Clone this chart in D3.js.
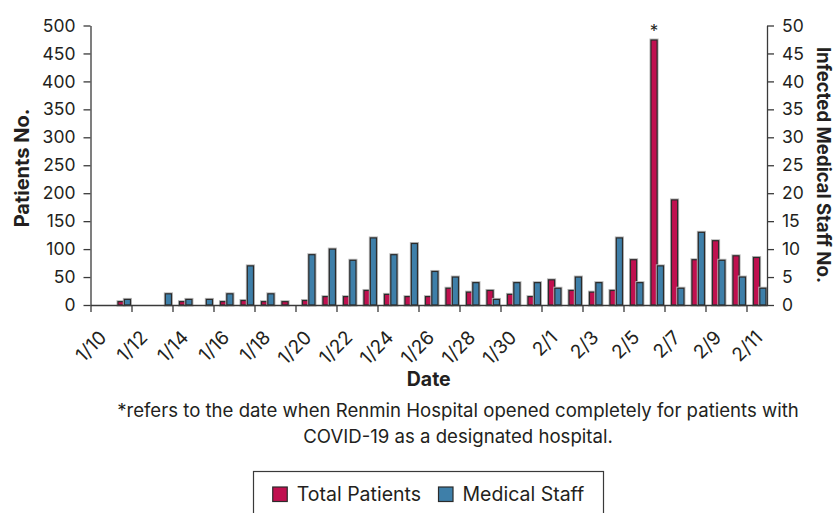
<!DOCTYPE html>
<html>
<head>
<meta charset="utf-8">
<script src="https://cdn.jsdelivr.net/npm/d3@7"></script>
<style>
  body { margin: 0; background: #fff; }
  svg { display: block; }
  text { font-family: Inter, "Liberation Sans", Arial, sans-serif; fill: #231f20; }
</style>
</head>
<body>
<div id="chart"></div>
<script>
// one entry per day, 1/10 .. 2/11
const dates = ["1/10", "1/11", "1/12", "1/13", "1/14", "1/15", "1/16", "1/17", "1/18", "1/19",
  "1/20", "1/21", "1/22", "1/23", "1/24", "1/25", "1/26", "1/27", "1/28", "1/29",
  "1/30", "1/31", "2/1", "2/2", "2/3", "2/4", "2/5", "2/6", "2/7", "2/8",
  "2/9", "2/10", "2/11"];
const totalPatients = [0, 6, 0, 0, 6, 0, 6, 8, 6, 6,
  8, 15, 15, 26, 19, 15, 15, 30, 23, 26,
  19, 15, 45, 26, 23, 26, 81, 474, 188, 81,
  115, 88, 85];
const medicalStaff = [0, 1, 0, 2, 1, 1, 2, 7, 2, 0,
  9, 10, 8, 12, 9, 11, 6, 5, 4, 1,
  4, 4, 3, 5, 4, 12, 4, 7, 3, 13,
  8, 5, 3];
const tickDates = ["1/10", "1/12", "1/14", "1/16", "1/18", "1/20", "1/22", "1/24", "1/26", "1/28",
  "1/30", "2/1", "2/3", "2/5", "2/7", "2/9", "2/11"];
const markedDate = "2/6";
const seriesNames = ["Total Patients", "Medical Staff"];
const seriesColors = ["#c0104f", "#3e7fa9"];

const W = 835, H = 513;
const margin = { top: 25.5, right: 68, bottom: 208, left: 90.5 };
const width = W - margin.left - margin.right;
const height = H - margin.top - margin.bottom;

const svg = d3.select("#chart").append("svg")
  .attr("width", W)
  .attr("height", H);

const g = svg.append("g")
  .attr("transform", "translate(" + margin.left + "," + margin.top + ")");

// day index scale: band i runs from x(i) to x(i+1)
const x = d3.scaleLinear().domain([0, dates.length]).range([0, width]);
const y = d3.scaleLinear().domain([0, 500]).range([height, 0]);
const y2 = d3.scaleLinear().domain([0, 50]).range([height, 0]);
const bw = x(1) - x(0);

// bars, drawn twice: soft grey halo then the dark outline
function drawBars(values, scale, color, offset) {
  const data = values.map((v, i) => ({ i: i, v: v })).filter(d => d.v > 0);
  [["#b8b8b8", 3], ["#2b2b2b", 1.2]].forEach(([stroke, sw]) => {
    g.append("g").selectAll("rect")
      .data(data)
      .enter()
      .append("rect")
      .attr("x", d => x(d.i) + bw * offset)
      .attr("y", d => scale(d.v))
      .attr("width", bw * 0.3)
      .attr("height", d => height - scale(d.v))
      .attr("fill", color)
      .attr("stroke", stroke)
      .attr("stroke-width", sw);
  });
}
drawBars(totalPatients, y, seriesColors[0], 0.34);
drawBars(medicalStaff, y2, seriesColors[1], 0.65);

// asterisk over the marked day
const mi = dates.indexOf(markedDate);
g.append("text")
  .attr("x", x(mi) + bw * 0.49)
  .attr("y", y(totalPatients[mi]) - 3)
  .attr("text-anchor", "middle")
  .style("font-size", "17px")
  .text("*");

// Axes
function styleAxis(sel) {
  sel.selectAll("path, line").attr("stroke", "#3a3a3a").attr("stroke-width", 1.3);
  sel.selectAll("text").style("font-size", "17.5px").attr("fill", "#231f20");
  sel.attr("font-family", null);
}

g.append("g")
  .call(d3.axisLeft(y).tickValues(d3.range(0, 501, 50)).tickSize(7).tickPadding(8).tickSizeOuter(0))
  .call(styleAxis);

g.append("g")
  .attr("transform", "translate(" + width + ",0)")
  .call(d3.axisRight(y2).tickValues(d3.range(0, 51, 5)).tickSize(7).tickPadding(8).tickSizeOuter(0))
  .call(styleAxis);

const xAxis = g.append("g")
  .attr("transform", "translate(0," + height + ")")
  .call(d3.axisBottom(x)
    .tickValues(tickDates.map(d => dates.indexOf(d)))
    .tickFormat(i => dates[i])
    .tickSize(7)
    .tickSizeOuter(0))
  .call(styleAxis);

xAxis.selectAll(".tick text")
  .style("font-size", "19px")
  .attr("text-anchor", "end")
  .attr("x", 0)
  .attr("y", 0)
  .attr("dy", "0.72em")
  .attr("transform", "translate(7,24) rotate(-45)");

// Axis titles
svg.append("text")
  .attr("transform", "translate(22,168) rotate(-90)")
  .attr("text-anchor", "middle")
  .attr("dy", "0.35em")
  .style("font-size", "20px")
  .style("font-weight", "bold")
  .text("Patients No.");

svg.append("text")
  .attr("transform", "translate(824,165) rotate(90)")
  .attr("text-anchor", "middle")
  .attr("dy", "0.35em")
  .style("font-size", "18.6px")
  .style("font-weight", "bold")
  .text("Infected Medical Staff No.");

svg.append("text")
  .attr("x", margin.left + width / 2)
  .attr("y", 386)
  .attr("text-anchor", "middle")
  .style("font-size", "19.5px")
  .style("font-weight", "bold")
  .text("Date");

// footnote
const notes = ["*refers to the date when Renmin Hospital opened completely for patients with",
  "COVID-19 as a designated hospital."];
svg.selectAll(".note")
  .data(notes)
  .enter()
  .append("text")
  .attr("class", "note")
  .attr("x", 458)
  .attr("y", (d, i) => 417 + i * 26)
  .attr("text-anchor", "middle")
  .style("font-size", "18.6px")
  .text(d => d);

// Legend
svg.append("rect")
  .attr("x", 253.5)
  .attr("y", 471.5)
  .attr("width", 350)
  .attr("height", 60)
  .attr("fill", "none")
  .attr("stroke", "#3a3a3a")
  .attr("stroke-width", 1.2);

const legend = svg.append("g");
let lx = 0;
seriesNames.forEach((name, i) => {
  const item = legend.append("g").attr("transform", "translate(" + lx + ",0)");
  item.append("rect")
    .attr("x", 0)
    .attr("y", 487)
    .attr("width", 14.5)
    .attr("height", 14.5)
    .attr("fill", seriesColors[i])
    .attr("stroke", "#2b2b2b")
    .attr("stroke-width", 1.2);
  const t = item.append("text")
    .attr("x", 24)
    .attr("y", 501)
    .style("font-size", "19.5px")
    .text(name);
  lx += 24 + t.node().getComputedTextLength() + 17.5;
});
const legendW = lx - 17.5;
legend.attr("transform", "translate(" + (428.5 - legendW / 2) + ",0)");
</script>
</body>
</html>
